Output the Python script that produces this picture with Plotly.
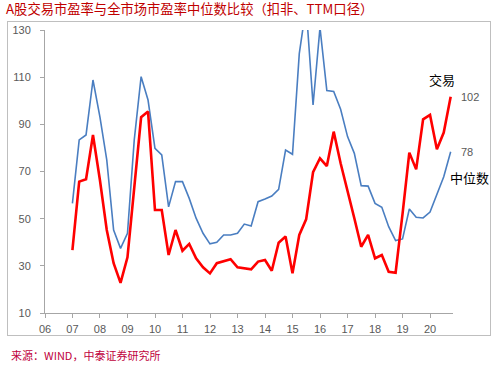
import pandas as pd
import plotly.graph_objects as go

# Quarter-end dates, Dec 2006 .. Sep 2020
dates = pd.date_range("2006-12-31", periods=56, freq="QE")

# A股交易市盈率 (red)
pe_trade = [36.7, 65.7, 66.7, 85.5, 66.4, 45.2, 31.1, 22.8, 33.6, 63.6,
            93.0, 95.4, 53.7, 53.7, 34.6, 45.2, 36.4, 39.3, 33.2, 29.4,
            26.8, 31.1, 31.9, 32.8, 29.4, 29.0, 28.5, 31.8, 32.5, 27.9,
            39.8, 42.4, 26.8, 43.1, 49.7, 69.7, 75.6, 72.3, 86.9, 73.5,
            62.2, 50.2, 38.1, 43.1, 33.2, 34.6, 27.5, 27.1, 52.0, 78.0,
            70.9, 92.1, 94.0, 79.4, 86.5, 101.7]

# 全市场市盈率中位数 (blue)
pe_median = [56.5, 83.4, 85.5, 108.8, 93.2, 74.9, 45.2, 37.4, 43.8, 83.4,
             110.2, 100.3, 79.8, 77.0, 55.0, 65.7, 65.7, 58.6, 50.2, 43.8,
             39.3, 40.0, 43.1, 43.1, 43.8, 47.7, 46.9, 57.2, 58.3, 59.6,
             62.4, 79.1, 77.3, 120.0, 140.0, 98.2, 131.0, 104.3, 103.9, 96.4,
             84.8, 77.7, 64.0, 63.8, 56.5, 54.8, 46.6, 40.7, 41.4, 54.1,
             50.6, 50.3, 52.8, 60.5, 67.8, 78.4]

y_ticks = [10, 30, 50, 70, 90, 110, 130]

title_text = "A股交易市盈率与全市场市盈率中位数比较（扣非、TTM口径）"
source_text = "来源：WIND，中泰证券研究所"
label_trade = "交易"
label_median = "中位数"

CJK = "Noto Sans CJK SC, Noto Sans, sans-serif"
NUM = "Liberation Sans, Arial, sans-serif"
GRAY = "#595959"
AXIS = "#A6A6A6"

fig = go.Figure()
fig.add_trace(go.Scatter(x=dates, y=pe_median, mode="lines",
                         line=dict(color="#4A7EC1", width=1.6),
                         showlegend=False))
fig.add_trace(go.Scatter(x=dates, y=pe_trade, mode="lines",
                         line=dict(color="#FF0000", width=2.6),
                         showlegend=False))

W, H = 496, 369
L, R, T, B = 43, 43, 30, 56
pw, ph = W - L - R, H - T - B

def px2paper(px, py):
    return (px - L) / pw, (H - B - py) / ph

fig.update_layout(
    width=W, height=H,
    margin=dict(l=L, r=R, t=T, b=B),
    paper_bgcolor="white", plot_bgcolor="white",
    title=dict(text=title_text, x=6 / W, xanchor="left", xref="container",
               y=1 - 9.5 / H, yanchor="middle", yref="container",
               font=dict(family=CJK, size=13.3, color="#C00000")),
    xaxis=dict(type="date", range=["2006-01-01", "2020-10-31"],
               tick0="2006-01-01", dtick="M12", tickformat="%y",
               showgrid=False, zeroline=False, showline=True,
               linecolor=AXIS, linewidth=1, ticks="outside", ticklen=4,
               tickcolor=AXIS, ticklabelstandoff=2,
               tickfont=dict(family=NUM, size=11, color=GRAY)),
    yaxis=dict(range=[10, 130], tickvals=y_ticks,
               showgrid=False, zeroline=False, showline=True,
               linecolor=AXIS, linewidth=1, ticks="outside", ticklen=4,
               tickcolor=AXIS, ticklabelstandoff=7,
               tickfont=dict(family=NUM, size=11, color=GRAY)),
    font=dict(family=CJK),
)

# end labels
last_x = dates[-1]
fig.add_annotation(x=last_x, y=pe_trade[-1], text=str(round(pe_trade[-1])),
                   showarrow=False, xanchor="left", yanchor="middle",
                   xshift=8, yshift=-0.5,
                   font=dict(family=NUM, size=11, color=GRAY))
fig.add_annotation(x=last_x, y=pe_median[-1], text=str(round(pe_median[-1])),
                   showarrow=False, xanchor="left", yanchor="middle",
                   xshift=8, yshift=-0.5,
                   font=dict(family=NUM, size=11, color=GRAY))
fig.add_annotation(x=last_x, y=pe_trade[-1], text=label_trade,
                   showarrow=False, xanchor="center", yanchor="middle",
                   xshift=-8.5, yshift=17,
                   font=dict(family=CJK, size=13, color="black"))
fig.add_annotation(x=last_x, y=pe_median[-1], text=label_median,
                   showarrow=False, xanchor="center", yanchor="middle",
                   xshift=18.5, yshift=-26,
                   font=dict(family=CJK, size=13, color="black"))

# source
sx, sy = px2paper(7, 355)
fig.add_annotation(xref="paper", yref="paper", x=sx, y=sy, text=source_text,
                   showarrow=False, xanchor="left", yanchor="middle",
                   font=dict(family=CJK, size=11, color="#C0003C"))

# page setup: no body margin, plus the light chart frame around the plot
post_js = (
    "document.body.style.margin='0';"
    "var f=document.createElement('div');"
    "f.style.cssText='position:absolute;left:7px;top:21px;width:484px;"
    "height:315px;border:1px solid #BFBFBF;box-sizing:border-box;"
    "pointer-events:none;';"
    "document.body.appendChild(f);"
)
fig.write_html("out.html", config={"displayModeBar": False},
               post_script=post_js)
